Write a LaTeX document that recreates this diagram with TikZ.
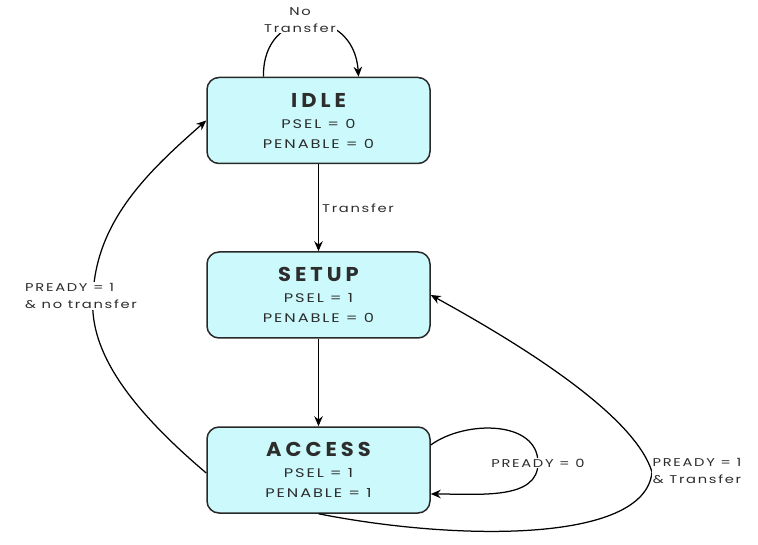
\documentclass[tikz,border=0pt]{standalone}
\usepackage{fontspec}
\setmainfont{Poppins}
\newfontfamily\wf[LetterSpace=15,FakeStretch=1.3]{Poppins}
\newfontfamily\tf[LetterSpace=20,FakeStretch=1.05]{Poppins}
\usetikzlibrary{arrows.meta}
\definecolor{boxfill}{RGB}{204,250,252}
\definecolor{boxline}{RGB}{40,40,40}
\definecolor{txt}{RGB}{45,45,45}
\begin{document}
\begin{tikzpicture}[x=1pt,y=-1pt,
  state/.style={draw=boxline,line width=1.5pt,fill=boxfill,rounded corners=12pt,
     minimum width=223pt,minimum height=86pt,inner sep=0pt,align=center,text=txt,
     font=\wf\fontsize{12.5}{20}\selectfont},
  conn/.style={line width=1.25pt,-{Stealth[length=10pt,width=8.5pt]}},
  lbl/.style={font=\wf\fontsize{11.3}{17}\selectfont,fill=white,inner sep=1pt,text=txt}]
\useasboundingbox (0,0) rectangle (758,545);
\newcommand{\stt}[3]{{\tf\fontsize{20}{20}\selectfont\bfseries #1}\\[1pt]#2\\#3}
\node[state] (idle) at (318.5,120.5) {\stt{IDLE}{PSEL = 0}{PENABLE = 0}};
\node[state] (setup) at (318.5,295) {\stt{SETUP}{PSEL = 1}{PENABLE = 0}};
\node[state] (access) at (318.5,470) {\stt{ACCESS}{PSEL = 1}{PENABLE = 1}};
% IDLE self loop
\draw[conn] ([xshift=-55pt]idle.north) .. controls (262,5) and (354,5) .. ([xshift=40pt]idle.north);
\node[lbl,align=center] (nt) at (300,20) {No\\Transfer};
% IDLE -> SETUP
\draw[conn] (idle.south) -- node[lbl,right,xshift=2pt,fill=none] (tr) {Transfer} (setup.north);
% SETUP -> ACCESS
\draw[conn] (setup.south) -- (access.north);
% ACCESS self loop
\coordinate (aloopmid) at (538,463);
\draw[conn] ([yshift=25pt]access.east) .. controls (465,420) and (538,420) .. (aloopmid)
  .. controls (538,500) and (480,494) .. ([yshift=-24pt]access.east);
\node[lbl] (p0) at (aloopmid) {PREADY = 0};
% ACCESS -> SETUP
\coordinate (rmid) at (652,472);
\draw[conn] (access.south) .. controls (450,540) and (645,545) .. (rmid)
  .. controls (636,420) and (540,355) .. (setup.east);
\node[lbl,align=center] (p1t) at (697,471) {PREADY = 1\\\& Transfer};
% ACCESS -> IDLE
\coordinate (lmid) at (93,296);
\draw[conn] ([yshift=-3pt]access.west) .. controls (120,400) and (89,345) .. (lmid)
  .. controls (96,220) and (150,170) .. (idle.west);
\node[lbl,align=left,anchor=west] (p1n) at (24,296) {PREADY = 1\\\& no transfer};
\end{tikzpicture}
\end{document}
